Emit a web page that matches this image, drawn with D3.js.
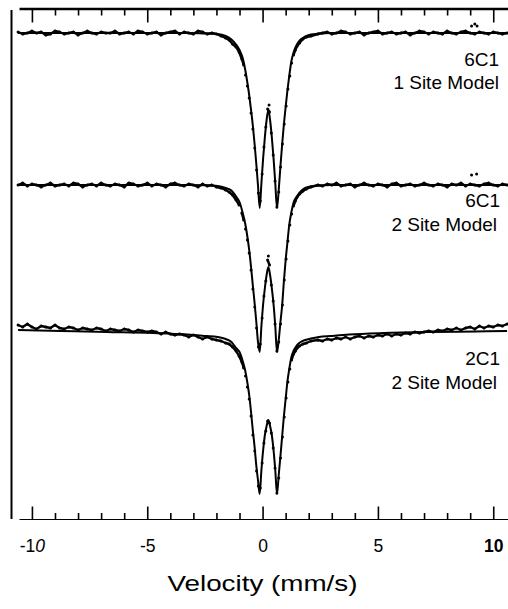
<!DOCTYPE html>
<html>
<head>
<meta charset="utf-8">
<script src="https://cdn.jsdelivr.net/npm/d3@7"></script>
<style>
  body { margin: 0; background: #fff; }
  svg { display: block; font-family: "Liberation Sans", Arial, sans-serif; }
</style>
</head>
<body>
<svg id="chart" width="508" height="609"></svg>
<script>
// Mossbauer spectra, relative transmission (baseline = 1)

const sampleNames = ['6C1', '6C1', '2C1'];
const modelNames = ['1 Site Model', '2 Site Model', '2 Site Model'];
const stackOffset = [0, -0.152, -0.305];

const majorTicks = [-10, -5, 0, 5, 10];
const minorTicks = [-9, -8, -7, -6, -4, -3, -2, -1, 1, 2, 3, 4, 6, 7, 8, 9];

// measured channels (mm/s)
const velocity = [
	-10.6, -10.4, -10.2, -10.0, -9.8, -9.6, -9.4, -9.2, -9.0, -8.8,
	-8.6, -8.4, -8.2, -8.0, -7.8, -7.6, -7.4, -7.2, -7.0, -6.8,
	-6.6, -6.4, -6.2, -6.0, -5.8, -5.6, -5.4, -5.2, -5.0, -4.8,
	-4.6, -4.4, -4.2, -4.0, -3.8, -3.6, -3.4, -3.2, -3.0, -2.8,
	-2.6, -2.4, -2.2,
	-2.0, -1.8, -1.6, -1.45, -1.3, -1.15, -1.02, -0.9,
	-0.82, -0.74, -0.66, -0.58, -0.50, -0.42, -0.34, -0.26, -0.18, -0.10,
	-0.02, 0.06, 0.14, 0.22, 0.30, 0.38, 0.46, 0.54, 0.62, 0.70,
	0.78, 0.86, 0.94, 1.02, 1.10, 1.18, 1.26, 1.34, 1.42,
	1.5, 1.6, 1.75, 1.9, 2.1,
	2.4, 2.6, 2.8, 3.0, 3.2, 3.4, 3.6, 3.8, 4.0, 4.2,
	4.4, 4.6, 4.8, 5.0, 5.2, 5.4, 5.6, 5.8, 6.0, 6.2,
	6.4, 6.6, 6.8, 7.0, 7.2, 7.4, 7.6, 7.8, 8.0, 8.2,
	8.4, 8.6, 8.8, 9.0, 9.2, 9.4, 9.6, 9.8, 10.0, 10.2,
	10.4, 10.6
];

const data6C1a = [
	1.001, 0.999, 1.000, 1.002, 1.000, 1.001, 0.998, 0.999, 1.002, 1.001,
	0.999, 1.000, 1.001, 0.998, 1.000, 1.002, 1.000, 0.999, 1.001, 1.000,
	1.000, 1.002, 0.999, 1.000, 1.001, 0.999, 1.002, 1.001, 0.999, 1.000,
	1.001, 0.998, 1.000, 1.001, 1.002, 0.999, 1.001, 1.000, 0.999, 1.002,
	1.001, 0.999, 1.000,
	0.999, 0.997, 0.995, 0.993, 0.989, 0.986, 0.981, 0.974,
	0.968, 0.958, 0.947, 0.935, 0.920, 0.904, 0.885, 0.863, 0.840, 0.832,
	0.859, 0.886, 0.906, 0.924, 0.921, 0.900, 0.878, 0.852, 0.826, 0.841,
	0.866, 0.889, 0.909, 0.927, 0.944, 0.957, 0.970, 0.978, 0.983,
	0.987, 0.990, 0.994, 0.996, 0.997,
	0.999, 1.000, 1.001, 0.999, 1.000, 1.002, 1.001, 0.999, 1.000, 1.001,
	0.998, 1.000, 1.001, 1.002, 0.999, 1.000, 1.001, 0.999, 1.000, 1.001,
	0.998, 1.000, 1.002, 1.001, 0.999, 1.001, 1.000, 0.999, 1.002, 1.000,
	0.999, 1.001, 1.002, 1.000, 0.999, 1.001, 1.000, 0.999, 1.001, 1.000,
	0.999, 1.000
];

const data6C1b = [
	1.000, 1.002, 0.999, 1.001, 1.000, 0.998, 1.000, 1.002, 0.999, 1.000,
	1.001, 0.999, 1.002, 1.001, 0.998, 1.000, 1.001, 0.999, 1.002, 1.000,
	0.999, 1.001, 1.000, 0.998, 1.002, 1.001, 0.999, 1.000, 1.002, 0.999,
	1.001, 1.000, 0.998, 1.001, 1.002, 1.000, 0.999, 1.001, 1.000, 0.998,
	1.001, 0.999, 1.000,
	0.998, 0.997, 0.995, 0.993, 0.990, 0.985, 0.980, 0.972,
	0.965, 0.956, 0.945, 0.932, 0.915, 0.896, 0.878, 0.857, 0.838, 0.841,
	0.867, 0.889, 0.904, 0.925, 0.920, 0.900, 0.884, 0.861, 0.834, 0.843,
	0.861, 0.880, 0.905, 0.926, 0.944, 0.960, 0.971, 0.979, 0.984,
	0.988, 0.991, 0.994, 0.996, 0.998,
	1.000, 0.999, 1.001, 1.000, 1.002, 0.999, 1.000, 1.001, 0.998, 1.000,
	1.002, 1.000, 0.999, 1.001, 1.000, 0.998, 1.001, 1.002, 0.999, 1.000,
	1.001, 0.999, 1.000, 1.002, 1.000, 0.999, 1.001, 1.000, 0.998, 1.001,
	1.000, 1.002, 0.999, 1.001, 1.000, 0.999, 1.001, 1.002, 1.000, 0.999,
	1.001, 1.000
];

const data2C1 = [
	1.013, 1.011, 1.014, 1.011, 1.009, 1.012, 1.011, 1.010, 1.013, 1.010,
	1.009, 1.011, 1.010, 1.008, 1.010, 1.009, 1.008, 1.010, 1.009, 1.007,
	1.009, 1.008, 1.007, 1.009, 1.008, 1.006, 1.008, 1.007, 1.006, 1.007,
	1.006, 1.004, 1.006, 1.004, 1.003, 1.004, 1.003, 1.001, 1.003, 1.001,
	0.999, 1.001, 0.999,
	0.998, 0.997, 0.995, 0.994, 0.991, 0.987, 0.982, 0.976,
	0.970, 0.962, 0.951, 0.939, 0.922, 0.903, 0.887, 0.867, 0.852, 0.850,
	0.875, 0.895, 0.907, 0.917, 0.915, 0.905, 0.890, 0.870, 0.845, 0.860,
	0.880, 0.901, 0.921, 0.940, 0.956, 0.969, 0.978, 0.984, 0.987,
	0.990, 0.992, 0.994, 0.995, 0.997,
	0.998, 0.997, 0.999, 0.998, 1.000, 0.999, 1.001, 0.999, 1.001, 1.002,
	1.000, 1.002, 1.001, 1.003, 1.002, 1.004, 1.002, 1.004, 1.003, 1.005,
	1.004, 1.006, 1.005, 1.006, 1.007, 1.006, 1.008, 1.007, 1.009, 1.008,
	1.010, 1.008, 1.010, 1.011, 1.009, 1.012, 1.010, 1.012, 1.011, 1.013,
	1.012, 1.014
];

// isolated counts sitting off the trace
const stray6C1a = [[0.28, 0.928], [9.06, 1.007], [9.2, 1.009], [9.3, 1.007]];
const stray6C1b = [[0.25, 0.929], [9.06, 1.010], [9.28, 1.011]];
const stray2C1 = [];

// fitted curves
const fitVelocity = [
	-10.6, -8.75, -6.75, -4.75, -3.25, -2.45, -1.95, -1.6, -1.35, -1.15,
	-1.0, -0.85, -0.75, -0.65, -0.575, -0.5, -0.425, -0.35, -0.275, -0.2,
	-0.125, -0.05, 0.025, 0.1, 0.175, 0.25, 0.325, 0.4, 0.475, 0.55,
	0.625, 0.7, 0.775, 0.85, 0.925, 1.0, 1.075, 1.15, 1.25, 1.35,
	1.5, 1.65, 1.85, 2.1, 2.45, 2.95, 3.75, 5.25, 7.25, 9.25,
	10.6
];

const fit6C1a = [
	1.000, 1.000, 1.000, 1.000, 1.000, 0.9995, 0.999, 0.997, 0.9935, 0.9885,
	0.983, 0.974, 0.963, 0.949, 0.937, 0.923, 0.908, 0.890, 0.870, 0.848,
	0.825, 0.850, 0.875, 0.896, 0.913, 0.923, 0.913, 0.896, 0.875, 0.850,
	0.825, 0.843, 0.867, 0.889, 0.909, 0.926, 0.942, 0.956, 0.972, 0.981,
	0.989, 0.9935, 0.9965, 0.9985, 0.9995, 1.000, 1.000, 1.000, 1.000, 1.000,
	1.000
];

const fit6C1b = [
	1.000, 1.000, 1.000, 1.000, 1.000, 0.9997, 0.999, 0.997, 0.9945, 0.9885,
	0.983, 0.971, 0.961, 0.947, 0.934, 0.918, 0.900, 0.883, 0.864, 0.843,
	0.833, 0.859, 0.881, 0.897, 0.910, 0.918, 0.910, 0.897, 0.881, 0.859,
	0.833, 0.845, 0.863, 0.880, 0.904, 0.925, 0.942, 0.959, 0.973, 0.983,
	0.989, 0.9935, 0.997, 0.9987, 0.9995, 1.000, 1.000, 1.000, 1.000, 1.000,
	1.000
];

const fit2C1 = [
	1.008, 1.007, 1.006, 1.005, 1.0035, 1.002, 1.001, 0.999, 0.996, 0.990,
	0.986, 0.976, 0.967, 0.954, 0.942, 0.926, 0.908, 0.892, 0.873, 0.858,
	0.844, 0.868, 0.888, 0.903, 0.912, 0.918, 0.912, 0.903, 0.888, 0.868,
	0.844, 0.863, 0.882, 0.902, 0.922, 0.939, 0.956, 0.968, 0.981, 0.9875,
	0.993, 0.996, 0.998, 0.9995, 1.001, 1.002, 1.0035, 1.005, 1.006, 1.0065,
	1.007
];

const measured = [data6C1a, data6C1b, data2C1];
const fitted = [fit6C1a, fit6C1b, fit2C1];
const strays = [stray6C1a, stray6C1b, stray2C1];

// label placement (layout only)
const labelY = [65.5, 207, 365];
const labelX = [[499, 499], [500, 497], [500, 497]];

const svg = d3.select('#chart');
const x = d3.scaleLinear().domain([-10.56, 10.64]).range([19, 508]);
const y = d3.scaleLinear().domain([0.514, 1.025]).range([519, 8]);

// left rule
svg.append('line')
	.attr('x1', 11.5).attr('x2', 11.5)
	.attr('y1', 10).attr('y2', 519)
	.attr('stroke', '#000')
	.attr('stroke-width', 2);

// bottom axis, ticks pointing in
let bottomAxis = svg.append('g').attr('transform', 'translate(0,519)');
bottomAxis.append('g')
	.call(d3.axisBottom(x).tickValues(minorTicks).tickSizeInner(-6).tickSizeOuter(0).tickFormat(''))
	.call(g => g.select('.domain').remove());
bottomAxis.append('g')
	.call(d3.axisBottom(x).tickValues(majorTicks).tickSizeInner(-12.5).tickSizeOuter(0)
		.tickPadding(20.5).tickFormat(d => String(d)));
bottomAxis.selectAll('.domain').attr('stroke-width', 1.2);
bottomAxis.selectAll('.tick line').attr('stroke-width', 1.6);
bottomAxis.selectAll('.tick text')
	.attr('font-size', 17.5)
	.attr('font-family', '"Liberation Sans", Arial, sans-serif')
	.attr('fill', '#000');
bottomAxis.selectAll('.tick text').filter(d => d === -10)
	.text('-1')
	.append('tspan').attr('font-style', 'italic').text('0');
bottomAxis.selectAll('.tick text').filter(d => d === 10).attr('font-weight', 'bold');

// top axis
let topAxis = svg.append('g').attr('transform', 'translate(0,8.5)');
topAxis.append('g')
	.call(d3.axisTop(x).tickValues(minorTicks).tickSizeInner(-7).tickSizeOuter(0).tickFormat(''))
	.call(g => g.select('.domain').remove());
topAxis.append('g')
	.call(d3.axisTop(x).tickValues(majorTicks).tickSizeInner(-14).tickSizeOuter(0).tickFormat(''));
topAxis.selectAll('.domain').attr('stroke-width', 2.5);
topAxis.selectAll('.tick line').attr('stroke-width', 1.6);

// axis title
svg.append('text')
	.attr('x', 262.5)
	.attr('y', 591)
	.attr('text-anchor', 'middle')
	.attr('font-size', 22)
	.attr('textLength', 190)
	.attr('lengthAdjust', 'spacingAndGlyphs')
	.text('Velocity (mm/s)');

let plot = svg.append('g');

measured.forEach((counts, i) => {
	const off = stackOffset[i];

	// fit
	let fitLine = d3.line()
		.x(d => x(d[0]))
		.y(d => y(d[1] + off))
		.curve(d3.curveMonotoneX);
	plot.append('path')
		.datum(d3.zip(fitVelocity, fitted[i]))
		.attr('d', fitLine)
		.attr('fill', 'none')
		.attr('stroke', '#000')
		.attr('stroke-width', 2);

	// data: join neighbouring channels into a jagged trace, keep far ones as dots
	let pts = d3.zip(velocity, counts).map(([v, t]) => [x(v), y(t + off)]);
	let segments = [];
	let cur = [pts[0]];
	for (let k = 1; k < pts.length; k++) {
		let dx = pts[k][0] - pts[k - 1][0];
		let dy = pts[k][1] - pts[k - 1][1];
		if (Math.sqrt(dx * dx + dy * dy) > 8) {
			segments.push(cur);
			cur = [];
		}
		cur.push(pts[k]);
	}
	segments.push(cur);

	segments.filter(s => s.length > 1).forEach(s => {
		plot.append('path')
			.attr('d', d3.line()(s))
			.attr('fill', 'none')
			.attr('stroke', '#000')
			.attr('stroke-width', 2.4)
			.attr('stroke-linejoin', 'round');
	});

	plot.append('g')
		.selectAll('circle')
		.data(pts.concat(strays[i].map(([v, t]) => [x(v), y(t + off)])))
		.join('circle')
		.attr('cx', d => d[0])
		.attr('cy', d => d[1])
		.attr('r', 1.5)
		.attr('fill', '#000');

	// labels
	svg.append('text')
		.attr('x', labelX[i][0])
		.attr('y', labelY[i])
		.attr('text-anchor', 'end')
		.attr('font-size', 19)
		.text(sampleNames[i]);
	svg.append('text')
		.attr('x', labelX[i][1])
		.attr('y', labelY[i] + 23.5)
		.attr('text-anchor', 'end')
		.attr('font-size', 19)
		.text(modelNames[i]);
});
</script>
</body>
</html>
